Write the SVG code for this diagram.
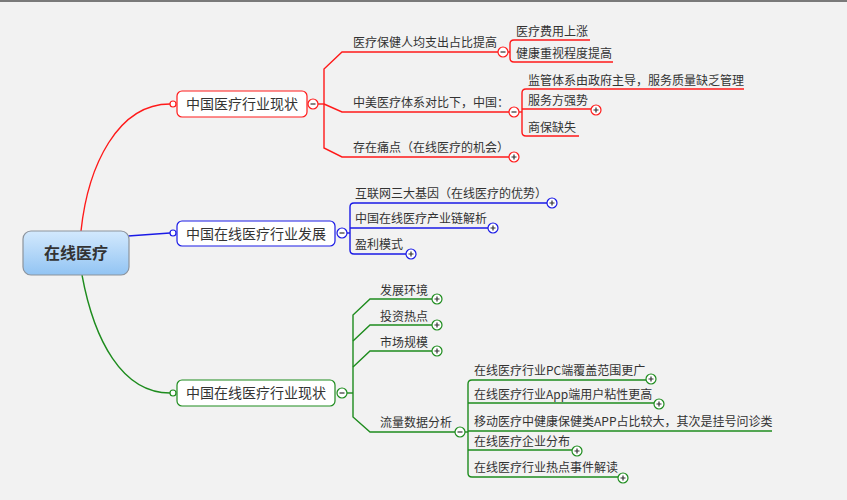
<svg xmlns="http://www.w3.org/2000/svg" width="847" height="500" viewBox="0 0 847 500">
<defs>
<linearGradient id="rootFill" x1="0" y1="0" x2="0" y2="1">
<stop offset="0" stop-color="#d3e9fd"/>
<stop offset="1" stop-color="#92c4f3"/>
</linearGradient>
</defs>
<style>
text{font-family:"Noto Sans CJK SC","Noto Sans",sans-serif;fill:#333}
.t{font-size:12px}
.m{font-size:14px;text-anchor:middle}
.r{stroke:#ff1a1a}
.b{stroke:#1a1ae6}
.g{stroke:#1e8c1e}
.ln{fill:none;stroke-width:1.4}
.box{fill:#fff;stroke-width:1.2}
.tg{fill:#fff;stroke-width:1.2}
.sg{stroke:#333;stroke-width:1.2;fill:none}
</style>
<rect x="0" y="0" width="847" height="500" fill="#f2f2f2"/>
<rect x="0" y="0" width="847" height="2" fill="#7a7a7a"/>

<g id="connectors">
<path class="ln r" d="M81,231 C88,165 118,104 170,104"/>
<path class="ln b" d="M128,236 L170,233"/>
<path class="ln g" d="M82,275 C94,340 122,393 170,393"/>
<path class="ln r" stroke-width="2" d="M318,104 L324,104"/>
<path class="ln r" d="M324,104 L324,69 L342,52 L498,52"/>
<path class="ln r" d="M324,104 L342,112 L509,112"/>
<path class="ln r" d="M324,104 L324,148 L342,157 L509,157"/>
<path class="ln r" d="M508,52 L510,52"/>
<path class="ln r" d="M590,40 L514,40 Q510,40 510,44 L510,58 Q510,62 514,62 L613,62"/>
<path class="ln r" d="M519,112 L522,112"/>
<path class="ln r" d="M744,89 L526,89 Q522,89 522,93 L522,132 Q522,136 526,136 L579,136"/>
<path class="ln r" d="M522,109 L591,109"/>
<path class="ln b" stroke-width="2" d="M347,233 L350,233"/>
<path class="ln b" d="M547,203 L354,203 Q350,203 350,207 L350,250 Q350,254 354,254 L406,254"/>
<path class="ln b" d="M350,228 L488,228"/>
<path class="ln g" stroke-width="2" d="M347,393 L353,393"/>
<path class="ln g" d="M353,393 L353,315 L370,299 L432,299"/>
<path class="ln g" d="M353,341 L370,325 L432,325"/>
<path class="ln g" d="M353,367 L370,351 L432,351"/>
<path class="ln g" d="M353,393 L353,417 L370,432 L455,432"/>
<path class="ln g" d="M465,432 L468,432"/>
<path class="ln g" d="M646,380 L472,380 Q468,380 468,384 L468,473 Q468,477 472,477 L618,477"/>
<path class="ln g" d="M468,403 L654,403"/>
<path class="ln g" d="M468,431 L772,431"/>
<path class="ln g" d="M468,450 L572,450"/>
</g>

<g id="root">
<rect x="23" y="231" width="106" height="44" rx="8" fill="url(#rootFill)" stroke="#8c939c" stroke-width="1.2"/>
<text x="76" y="259" font-size="16" font-weight="bold" text-anchor="middle">在线医疗</text>
</g>

<g id="n-red">
<rect class="box r" x="177" y="91" width="130" height="26" rx="5"/>
<circle class="tg r" cx="173" cy="104" r="3"/>
<text class="m" x="242" y="109">中国医疗行业现状</text>
<circle class="tg r" cx="313" cy="104" r="5"/>
<path class="sg" d="M310.5,104 H315.5"/>
</g>
<g id="n-red-1">
<text class="t" x="353" y="47">医疗保健人均支出占比提高</text>
<circle class="tg r" cx="503" cy="52" r="5"/>
<path class="sg" d="M500.5,52 H505.5"/>
</g>
<g id="n-red-1-1"><text class="t" x="516" y="36">医疗费用上涨</text></g>
<g id="n-red-1-2"><text class="t" x="516" y="58">健康重视程度提高</text></g>
<g id="n-red-2">
<text class="t" x="353" y="107">中美医疗体系对比下，中国：</text>
<circle class="tg r" cx="514" cy="112" r="5"/>
<path class="sg" d="M511.5,112 H516.5"/>
</g>
<g id="n-red-2-1"><text class="t" x="528" y="85">监管体系由政府主导，服务质量缺乏管理</text></g>
<g id="n-red-2-2">
<text class="t" x="528" y="105">服务方强势</text>
<circle class="tg r" cx="596" cy="110" r="5"/>
<path class="sg" d="M593.5,110 H598.5 M596,107.5 V112.5"/>
</g>
<g id="n-red-2-3"><text class="t" x="528" y="132">商保缺失</text></g>
<g id="n-red-3">
<text class="t" x="353" y="152">存在痛点（在线医疗的机会）</text>
<circle class="tg r" cx="514" cy="157" r="5"/>
<path class="sg" d="M511.5,157 H516.5 M514,154.5 V159.5"/>
</g>

<g id="n-blue">
<rect class="box b" x="177" y="221" width="158" height="25" rx="5"/>
<circle class="tg b" cx="173" cy="233" r="3"/>
<text class="m" x="256" y="239">中国在线医疗行业发展</text>
<circle class="tg b" cx="342" cy="233" r="5"/>
<path class="sg" d="M339.5,233 H344.5"/>
</g>
<g id="n-blue-1">
<text class="t" x="355" y="198">互联网三大基因（在线医疗的优势）</text>
<circle class="tg b" cx="552" cy="203" r="5"/>
<path class="sg" d="M549.5,203 H554.5 M552,200.5 V205.5"/>
</g>
<g id="n-blue-2">
<text class="t" x="355" y="223">中国在线医疗产业链解析</text>
<circle class="tg b" cx="493" cy="228" r="5"/>
<path class="sg" d="M490.5,228 H495.5 M493,225.5 V230.5"/>
</g>
<g id="n-blue-3">
<text class="t" x="355" y="249">盈利模式</text>
<circle class="tg b" cx="411" cy="254" r="5"/>
<path class="sg" d="M408.5,254 H413.5 M411,251.5 V256.5"/>
</g>

<g id="n-green">
<rect class="box g" x="177" y="380" width="158" height="26" rx="5"/>
<circle class="tg g" cx="173" cy="393" r="3"/>
<text class="m" x="256" y="398">中国在线医疗行业现状</text>
<circle class="tg g" cx="342" cy="393" r="5"/>
<path class="sg" d="M339.5,393 H344.5"/>
</g>
<g id="n-green-1">
<text class="t" x="380" y="295">发展环境</text>
<circle class="tg g" cx="437" cy="299" r="5"/>
<path class="sg" d="M434.5,299 H439.5 M437,296.5 V301.5"/>
</g>
<g id="n-green-2">
<text class="t" x="380" y="321">投资热点</text>
<circle class="tg g" cx="437" cy="325" r="5"/>
<path class="sg" d="M434.5,325 H439.5 M437,322.5 V327.5"/>
</g>
<g id="n-green-3">
<text class="t" x="380" y="347">市场规模</text>
<circle class="tg g" cx="437" cy="351" r="5"/>
<path class="sg" d="M434.5,351 H439.5 M437,348.5 V353.5"/>
</g>
<g id="n-green-4">
<text class="t" x="380" y="427">流量数据分析</text>
<circle class="tg g" cx="460" cy="432" r="5"/>
<path class="sg" d="M457.5,432 H462.5"/>
</g>
<g id="n-green-4-1">
<text class="t" x="474" y="375">在线医疗行业PC端覆盖范围更广</text>
<circle class="tg g" cx="651" cy="379" r="5"/>
<path class="sg" d="M648.5,379 H653.5 M651,376.5 V381.5"/>
</g>
<g id="n-green-4-2">
<text class="t" x="474" y="399">在线医疗行业App端用户粘性更高</text>
<circle class="tg g" cx="659" cy="404" r="5"/>
<path class="sg" d="M656.5,404 H661.5 M659,401.5 V406.5"/>
</g>
<g id="n-green-4-3"><text class="t" x="474" y="426">移动医疗中健康保健类APP占比较大，其次是挂号问诊类</text></g>
<g id="n-green-4-4">
<text class="t" x="474" y="446">在线医疗企业分布</text>
<circle class="tg g" cx="577" cy="451" r="5"/>
<path class="sg" d="M574.5,451 H579.5 M577,448.5 V453.5"/>
</g>
<g id="n-green-4-5">
<text class="t" x="474" y="472">在线医疗行业热点事件解读</text>
<circle class="tg g" cx="623" cy="478" r="5"/>
<path class="sg" d="M620.5,478 H625.5 M623,475.5 V480.5"/>
</g>
</svg>
